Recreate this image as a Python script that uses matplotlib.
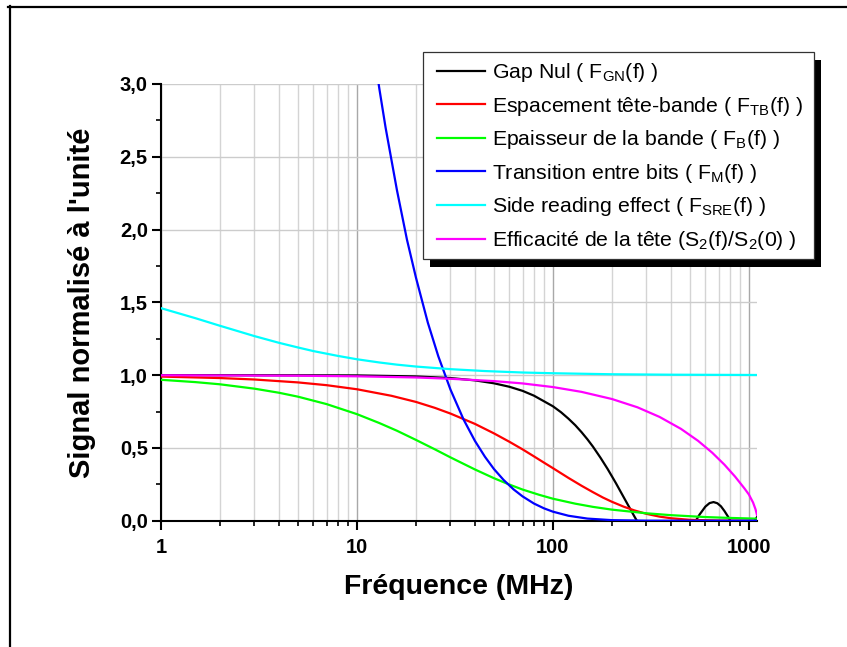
import matplotlib
matplotlib.use('Agg')
import matplotlib.pyplot as plt
from matplotlib.lines import Line2D
from matplotlib.patches import Rectangle
from matplotlib.transforms import IdentityTransform
from matplotlib.ticker import FixedLocator, NullFormatter, FuncFormatter, LogLocator

plt.rcParams['font.family'] = ['Liberation Sans', 'DejaVu Sans']
plt.rcParams['mathtext.fontset'] = 'custom'
plt.rcParams['mathtext.rm'] = 'Liberation Sans'

# ── Données (fréquence en MHz) ─────────────────────────────────────
# Gap nul : la partie négative est masquée sous l'axe (ylim à 0)
f_gn = [1, 5, 10, 20, 30, 40, 50, 60, 70, 80, 100, 110, 120, 130, 140, 150, 160, 175, 190,
        200, 210, 225, 240, 250, 260, 268, 300, 400, 536, 560, 600, 630, 660, 690, 720,
        750, 780, 804, 900, 1000, 1100]
y_gn = [1.0, 0.999, 0.998, 0.991, 0.980, 0.964, 0.944, 0.920, 0.892, 0.859, 0.786, 0.745,
        0.701, 0.656, 0.608, 0.559, 0.509, 0.432, 0.356, 0.305, 0.256, 0.183, 0.115, 0.072,
        0.031, 0.0, -0.104, -0.213, 0.0, 0.042, 0.097, 0.121, 0.128, 0.120, 0.099, 0.067,
        0.031, 0.0, -0.086, -0.064, 0.025]

f_tb = [1, 2, 3, 5, 7, 10, 15, 20, 25, 30, 40, 50, 60, 70, 80, 90, 100, 120, 140, 160, 180,
        200, 230, 260, 300, 350, 400, 500, 700, 1100]
y_tb = [0.990, 0.980, 0.970, 0.950, 0.931, 0.903, 0.858, 0.816, 0.775, 0.736, 0.665, 0.600,
        0.542, 0.490, 0.442, 0.399, 0.361, 0.294, 0.240, 0.196, 0.159, 0.130, 0.096, 0.071,
        0.047, 0.028, 0.017, 0.006, 0.001, 0.0]

f_b = [1, 1.5, 2, 3, 4, 5, 7, 10, 13, 16, 20, 25, 30, 40, 50, 60, 70, 85, 100, 130, 160,
       200, 300, 400, 600, 800, 1100]
y_b = [0.968, 0.952, 0.937, 0.907, 0.879, 0.852, 0.801, 0.732, 0.671, 0.618, 0.555, 0.490,
       0.435, 0.352, 0.292, 0.248, 0.214, 0.178, 0.151, 0.117, 0.095, 0.076, 0.051, 0.038,
       0.025, 0.019, 0.014]

f_m = [12, 13, 14, 16, 18, 20, 23, 26, 30, 35, 40, 45, 50, 56, 63, 70, 80, 90, 100, 120,
       150, 200, 300, 1100]
y_m = [3.29, 2.97, 2.70, 2.27, 1.93, 1.67, 1.36, 1.13, 0.901, 0.695, 0.548, 0.439, 0.355,
       0.280, 0.215, 0.167, 0.118, 0.085, 0.062, 0.034, 0.0145, 0.0038, 0.0003, 0.0]

f_sre = [1, 1.5, 2, 2.5, 3, 4, 5, 6, 8, 10, 13, 16, 20, 30, 45, 70, 100, 200, 400, 1100]
y_sre = [1.460, 1.391, 1.339, 1.300, 1.268, 1.222, 1.190, 1.165, 1.132, 1.109, 1.087, 1.072,
         1.059, 1.041, 1.028, 1.018, 1.013, 1.006, 1.003, 1.001]

f_s2 = [1, 5, 10, 20, 30, 50, 70, 100, 140, 200, 270, 350, 450, 550, 650, 750, 850, 950,
        1000, 1050, 1080, 1100]
y_s2 = [0.999, 0.996, 0.992, 0.984, 0.975, 0.959, 0.943, 0.918, 0.885, 0.836, 0.779, 0.713,
        0.631, 0.549, 0.467, 0.385, 0.303, 0.221, 0.180, 0.125, 0.080, 0.040]

labels = [
    r'Gap Nul ( F$_\mathregular{GN}$(f) )',
    r'Espacement tête-bande ( F$_\mathregular{TB}$(f) )',
    r'Epaisseur de la bande ( F$_\mathregular{B}$(f) )',
    r'Transition entre bits ( F$_\mathregular{M}$(f) )',
    r'Side reading effect ( F$_\mathregular{SRE}$(f) )',
    r'Efficacité de la tête (S$_\mathregular{2}$(f)/S$_\mathregular{2}$(0) )',
]
colors = ['#000000', '#ff0000', '#00ff00', '#0000ff', '#00ffff', '#ff00ff']
series = [(f_gn, y_gn), (f_tb, y_tb), (f_b, y_b), (f_m, y_m), (f_sre, y_sre), (f_s2, y_s2)]

W, H = 847, 647
fig = plt.figure(figsize=(W / 100, H / 100), dpi=100)
ax = fig.add_axes([161 / W, 1 - 520.7 / H, (757 - 161) / W, (520.7 - 84) / H])

handles = []
for (fx, fy), c, lab in zip(series, colors, labels):
    ln, = ax.plot(fx, fy, color=c, lw=1.6, label=lab, zorder=3)
    handles.append(ln)

ax.set_xscale('log')
ax.set_xlim(1, 1100)
ax.set_ylim(0, 3.0)

ax.xaxis.set_major_locator(FixedLocator([1, 10, 100, 1000]))
ax.xaxis.set_major_formatter(FuncFormatter(lambda v, p: f'{v:g}'))
ax.xaxis.set_minor_locator(LogLocator(base=10, subs=range(2, 10)))
ax.xaxis.set_minor_formatter(NullFormatter())
ax.set_yticks([0, 0.5, 1.0, 1.5, 2.0, 2.5, 3.0])
ax.set_yticks([0.25, 0.75, 1.25, 1.75, 2.25, 2.75], minor=True)
ax.yaxis.set_major_formatter(FuncFormatter(lambda v, p: f'{v:.1f}'.replace('.', ',')))

ax.set_axisbelow(True)
ax.grid(which='major', axis='x', color='#a8a8a8', lw=1.0)
ax.grid(which='minor', axis='x', color='#d4d4d4', lw=1.0)
ax.grid(which='major', axis='y', color='#cccccc', lw=1.0)

for s in ['top', 'right']:
    ax.spines[s].set_visible(False)
for s in ['left', 'bottom']:
    ax.spines[s].set_linewidth(1.5)

ax.tick_params(which='major', direction='out', length=6.5, width=1.5, labelsize=14.5)
ax.tick_params(which='minor', direction='out', length=3.5, width=1.2)
ax.tick_params(axis='x', which='major', pad=6)
ax.tick_params(axis='y', which='major', pad=3)
for t in ax.get_xticklabels() + ax.get_yticklabels():
    t.set_fontweight('bold')

ax.set_xlabel('Fréquence (MHz)', fontsize=20.5, fontweight='bold', labelpad=12)
ax.set_ylabel("Signal normalisé à l'unité", fontsize=21, fontweight='bold', labelpad=17)

# ── Légende : cadre + ombre dessinés à part (pixels, origine en haut à gauche)
box_l, box_t, box_r, box_b = 423, 52, 814, 259
shadow_dx, shadow_dy = 7, 8
fig.add_artist(Rectangle((box_l + shadow_dx, H - box_b - shadow_dy), box_r - box_l, box_b - box_t,
                         transform=IdentityTransform(), facecolor='black',
                         edgecolor='none', zorder=4.8))
fig.add_artist(Rectangle((box_l, H - box_b), box_r - box_l, box_b - box_t,
                         transform=IdentityTransform(), facecolor='white',
                         edgecolor='#333333', lw=0.9, zorder=4.9))

leg = fig.legend(handles=handles, loc='upper left', bbox_to_anchor=(437 / W, 1 - 61 / H),
                 fontsize=15.3, frameon=False, borderaxespad=0, borderpad=0,
                 handlelength=2.25, handletextpad=0.33, labelspacing=0.5)
leg.set_zorder(5)

# cadre autour de la figure (haut et gauche)
fig.add_artist(Line2D([8 / W, 1], [1 - 7 / H, 1 - 7 / H], color='black', lw=1.6))
fig.add_artist(Line2D([10 / W, 10 / W], [1 - 6 / H, 0], color='black', lw=1.6))

fig.savefig('out.png', dpi=100)
